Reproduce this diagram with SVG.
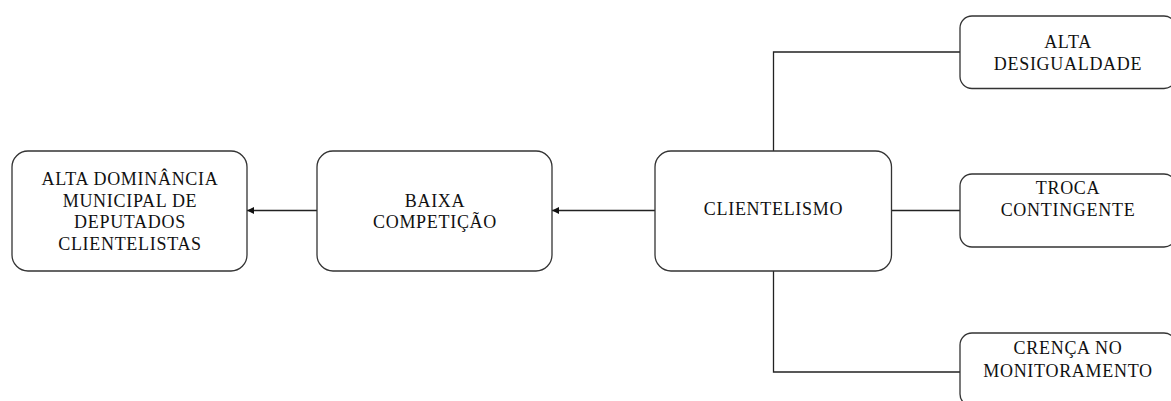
<svg xmlns="http://www.w3.org/2000/svg" width="1171" height="401" viewBox="0 0 1171 401">
<defs>
<style>
.box{fill:#fff;stroke:#333;stroke-width:1.3}
.t{font-family:"Liberation Serif","Times New Roman",serif;font-size:18px;letter-spacing:0.7px;fill:#111;text-anchor:middle}
.c{fill:none;stroke:#222;stroke-width:1.3}
</style>
<marker id="ah" viewBox="0 0 10 10" refX="10" refY="5" markerWidth="7" markerHeight="7" markerUnits="userSpaceOnUse" orient="auto">
<path d="M0,0 L10,5 L0,10 z" fill="#111"/>
</marker>
</defs>
<rect width="1171" height="401" fill="#fff"/>
<g id="connectors">
<line class="c" x1="655" y1="210.5" x2="552" y2="210.5" marker-end="url(#ah)"/>
<line class="c" x1="317" y1="210.5" x2="247" y2="210.5" marker-end="url(#ah)"/>
<polyline class="c" points="773.5,151 773.5,52 960,52"/>
<line class="c" x1="891.5" y1="210.5" x2="960" y2="210.5"/>
<polyline class="c" points="773.5,271 773.5,372 960,372"/>
</g>
<g id="node-alta-dominancia">
<rect class="box" x="12" y="151" width="235" height="120" rx="16"/>
<text class="t" x="130" y="185">ALTA DOMINÂNCIA</text>
<text class="t" x="130" y="206.5">MUNICIPAL DE</text>
<text class="t" x="130" y="228">DEPUTADOS</text>
<text class="t" x="130" y="249.5">CLIENTELISTAS</text>
</g>
<g id="node-baixa-competicao">
<rect class="box" x="317" y="151" width="235" height="120" rx="16"/>
<text class="t" x="435" y="206.5">BAIXA</text>
<text class="t" x="435" y="228">COMPETIÇÃO</text>
</g>
<g id="node-clientelismo">
<rect class="box" x="655" y="151" width="236.5" height="120" rx="16"/>
<text class="t" x="773.5" y="215">CLIENTELISMO</text>
</g>
<g id="node-alta-desigualdade">
<rect class="box" x="960" y="16" width="216" height="72.5" rx="12"/>
<text class="t" x="1068" y="47.5">ALTA</text>
<text class="t" x="1068" y="70">DESIGUALDADE</text>
</g>
<g id="node-troca-contingente">
<rect class="box" x="960" y="174" width="216" height="73" rx="12"/>
<text class="t" x="1068" y="193.5">TROCA</text>
<text class="t" x="1068" y="216">CONTINGENTE</text>
</g>
<g id="node-crenca">
<rect class="box" x="960" y="333" width="216" height="73" rx="12"/>
<text class="t" x="1068" y="354">CRENÇA NO</text>
<text class="t" x="1068" y="377">MONITORAMENTO</text>
</g>
</svg>
